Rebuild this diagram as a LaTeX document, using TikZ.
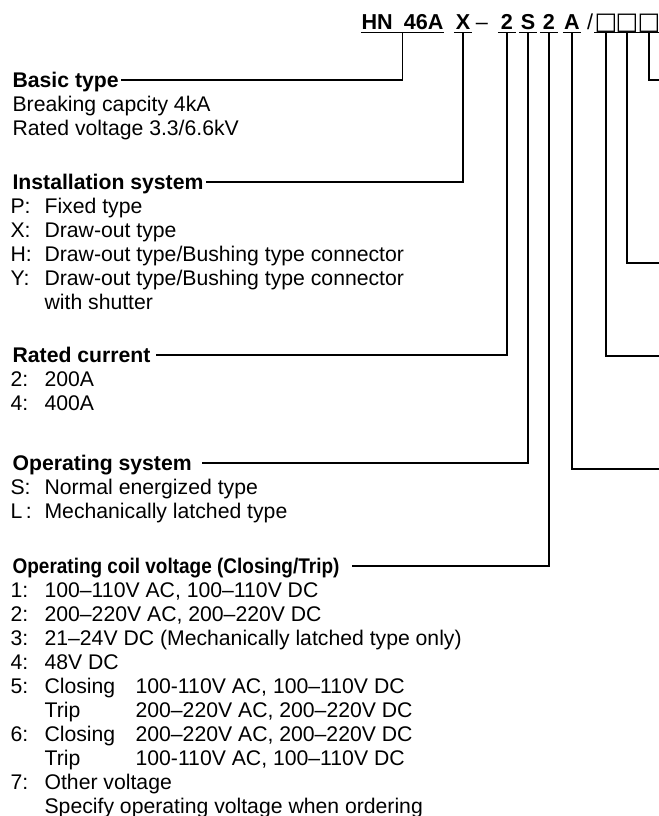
\documentclass[tikz,border=0pt]{standalone}
\usepackage{fontspec}
\setmainfont{Liberation Sans}
\newfontfamily\symfont{DejaVu Sans}
\usetikzlibrary{positioning}
\newcommand\itm[2]{\makebox[17pt][l]{#1}#2}
\newcommand\volt[2]{\makebox[45.5pt][l]{#1}#2}

\begin{document}
\begin{tikzpicture}[x=0.5pt,y=-0.5pt,line width=0.6pt,
  font=\fontsize{10.6pt}{12pt}\selectfont,
  code/.style={font=\fontsize{10.8pt}{12pt}\selectfont\bfseries,anchor=base,inner xsep=0pt,inner ysep=1.5pt,text depth=0pt,minimum width=8.5pt},
  box/.style={code,font=\fontsize{12pt}{12pt}\symfont},
  head/.style={font=\fontsize{10.6pt}{12pt}\selectfont\bfseries,anchor=west,inner xsep=1pt,inner ysep=0pt,text height=7pt,text depth=0pt},
  item/.style={anchor=base west,inner sep=0pt}]
\useasboundingbox (0,0) rectangle (659,816);

\node[code,minimum width=40.5pt] (hn) at (402.5,29) {HN\hspace{5.5pt}46A};
\node[code] (x) at (463,29) {X};
\node[code,font=\fontsize{10.8pt}{12pt}\selectfont] (dash) at (482,29) {–};
\node[code] (r) at (507,29) {2};
\node[code] (s) at (528,29) {S};
\node[code] (c) at (549,29) {2};
\node[code] (a) at (572,29) {A};
\node[code,font=\fontsize{10.8pt}{12pt}\selectfont] (sl) at (590,29) {/};
\node[box] (b1) at (606,29) {□};
\node[box] (b2) at (627,29) {□};
\node[box] (b3) at (649,29) {□};
\foreach \n in {hn,x,r,s,c,a,b1,b2,b3}
  \draw (\n.south west) -- (\n.south east);

\node[head] (basic) at (10,80) {Basic type};
\node[item] (bt1) at (12,111) {Breaking capcity 4kA};
\node[item] (bt2) at (12,135) {Rated voltage 3.3/6.6kV};

\node[head] (inst) at (10,182) {Installation system};
\node[item] (is1) at (10,213) {\itm{P:}{Fixed type}};
\node[item] (is2) at (10,237) {\itm{X:}{Draw-out type}};
\node[item] (is3) at (10,261) {\itm{H:}{Draw-out type/Bushing type connector}};
\node[item] (is4) at (10,285) {\itm{Y:}{Draw-out type/Bushing type connector}};
\node[item] (is5) at (10,309) {\itm{}{with shutter}};

\node[head] (rc) at (10,355) {Rated current};
\node[item] (rc1) at (10,386) {\itm{2:}{200A}};
\node[item] (rc2) at (10,410) {\itm{4:}{400A}};

\node[head] (opsys) at (10,463) {Operating system};
\node[item] (os1) at (10,494) {\itm{S:}{Normal energized type}};
\node[item] (os2) at (10,518) {\itm{L\,:}{Mechanically latched type}};

\node[head] (coil) at (10,566) {\scalebox{0.895}[1]{Operating coil voltage (Closing/Trip)}};
\node[item] (cv1) at (10,597) {\itm{1:}{100–110V AC, 100–110V DC}};
\node[item] (cv2) at (10,621) {\itm{2:}{200–220V AC, 200–220V DC}};
\node[item] (cv3) at (10,645) {\itm{3:}{21–24V DC (Mechanically latched type only)}};
\node[item] (cv4) at (10,669) {\itm{4:}{48V DC}};
\node[item] (cv5) at (10,693) {\itm{5:}{\volt{Closing}{100-110V AC, 100–110V DC}}};
\node[item] (cv5t) at (10,717) {\itm{}{\volt{Trip}{200–220V AC, 200–220V DC}}};
\node[item] (cv6) at (10,741) {\itm{6:}{\volt{Closing}{200–220V AC, 200–220V DC}}};
\node[item] (cv6t) at (10,765) {\itm{}{\volt{Trip}{100-110V AC, 100–110V DC}}};
\node[item] (cv7) at (10,789) {\itm{7:}{Other voltage}};
\node[item] (cv7s) at (10,813) {\itm{}{Specify operating voltage when ordering}};

\coordinate (e3) at (659,80);
\coordinate (e2) at (659,263);
\coordinate (e1) at (659,356);
\coordinate (e0) at (659,469);

\draw (hn.south) |- (basic.east);
\draw (x.south) |- (inst.east);
\draw (r.south) |- ([xshift=1.5pt]rc.east);
\draw (s.south) |- ([xshift=4pt]opsys.east);
\draw (c.south) |- ([xshift=5pt]coil.east);
\draw (a.south) |- (e0);
\draw (b1.south) |- (e1);
\draw (b2.south) |- (e2);
\draw (b3.south) |- (e3);
\end{tikzpicture}
\end{document}
